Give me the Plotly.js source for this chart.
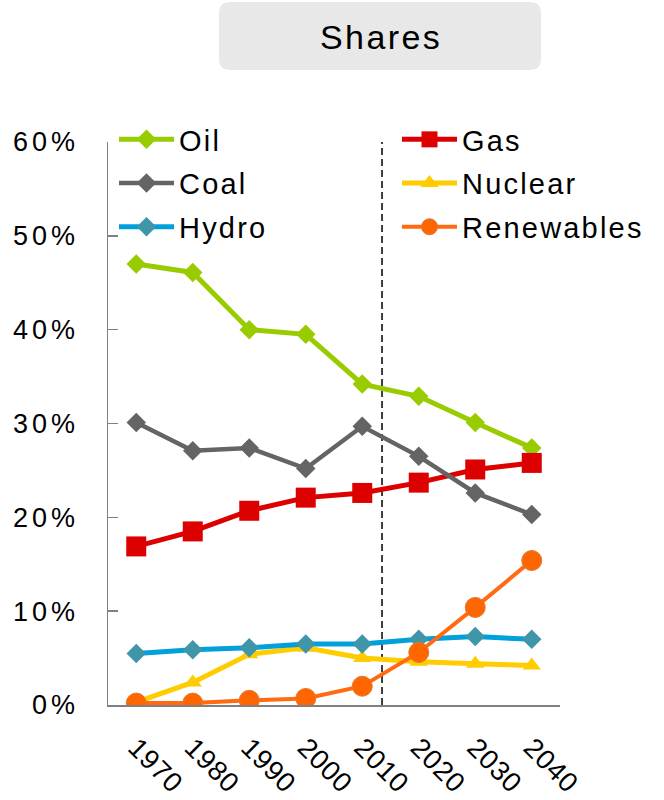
<!DOCTYPE html>
<html>
<head>
<meta charset="utf-8">
<script src="https://cdn.plot.ly/plotly-3.0.1.min.js"></script>
<style>
html,body{margin:0;padding:0;background:#fff;}
.legend text, .legend2 text, [class^="legend"] text, text.legendtext{letter-spacing:2.2px !important;}
[class^="legend"] .scrollbox, .legend2 .scrollbox, .legend .scrollbox{clip-path:none !important;}
.ytick text{letter-spacing:4px;}
.xtick text{letter-spacing:0.6px;}
.annotation-text{letter-spacing:2.4px;}
</style>
</head>
<body>
<div id="chart" style="width:664px;height:800px;"></div>
<script>
const years = [1970, 1980, 1990, 2000, 2010, 2020, 2030, 2040];
const yearLabels = ['1970', '1980', '1990', '2000', '2010', '2020', '2030', '2040'];
const oil = [0.470, 0.461, 0.400, 0.395, 0.342, 0.329, 0.301, 0.274];
const coal = [0.301, 0.271, 0.274, 0.252, 0.297, 0.265, 0.226, 0.203];
const gas = [0.169, 0.185, 0.207, 0.221, 0.226, 0.237, 0.251, 0.258];
const hydro = [0.055, 0.059, 0.061, 0.065, 0.065, 0.070, 0.073, 0.070];
const nuclear = [0.003, 0.024, 0.054, 0.061, 0.050, 0.046, 0.044, 0.042];
const renewables = [0.002, 0.002, 0.005, 0.007, 0.020, 0.056, 0.104, 0.154];
const yTicks = [0, 0.1, 0.2, 0.3, 0.4, 0.5, 0.6];
const yTickLabels = ['0%', '10%', '20%', '30%', '40%', '50%', '60%'];
const projectionStart = 2013.5;
const titleText = 'Shares';

const FONT = 'Liberation Sans, Arial, sans-serif';
const W = 664, H = 800;
const L = 108, R = 560, T = 142, B = 705;
const px2x = p => (p - L) / (R - L);
const px2y = p => (B - p) / (B - T);

function roundRect(x0, y0, x1, y1, r) {
  const X = px2x, Y = px2y;
  return 'M' + X(x0 + r) + ',' + Y(y0) +
    ' L' + X(x1 - r) + ',' + Y(y0) +
    ' Q' + X(x1) + ',' + Y(y0) + ' ' + X(x1) + ',' + Y(y0 + r) +
    ' L' + X(x1) + ',' + Y(y1 - r) +
    ' Q' + X(x1) + ',' + Y(y1) + ' ' + X(x1 - r) + ',' + Y(y1) +
    ' L' + X(x0 + r) + ',' + Y(y1) +
    ' Q' + X(x0) + ',' + Y(y1) + ' ' + X(x0) + ',' + Y(y1 - r) +
    ' L' + X(x0) + ',' + Y(y0 + r) +
    ' Q' + X(x0) + ',' + Y(y0) + ' ' + X(x0 + r) + ',' + Y(y0) + ' Z';
}

function tr(name, y, lineColor, lineWidth, symbol, size, markerColor, markerLine, legend) {
  return {
    type: 'scatter', mode: 'lines+markers', x: years, y: y, name: name,
    legend: legend, legendgroup: name,
    line: {color: lineColor, width: lineWidth},
    marker: {symbol: symbol, size: size, color: markerColor,
             line: markerLine || {width: 0}},
    hoverinfo: 'skip'
  };
}

const data = [
  tr('Oil', oil, '#99CC00', 5, 'diamond', 15, '#99CC00', null, 'legend'),
  tr('Gas', gas, '#DD0000', 5, 'square', 20, '#DD0000', null, 'legend2'),
  tr('Coal', coal, '#646464', 4.5, 'diamond', 15, '#646464', null, 'legend'),
  tr('Nuclear', nuclear, '#FFCC00', 5, 'triangle-up', 16, '#FFCC00', null, 'legend2'),
  tr('Hydro', hydro, '#00A0DC', 5, 'diamond', 15, '#3F96A8', null, 'legend'),
  tr('Renewables', renewables, '#FF6A13', 4, 'circle', 20, '#FF6600', {color: '#E07A30', width: 1}, 'legend2')
];

const legendCommon = {
  font: {family: FONT, size: 29, color: '#000'},
  bgcolor: 'rgba(0,0,0,0)', borderwidth: 0,
  itemwidth: 55, tracegroupgap: 3, traceorder: 'grouped',
  xanchor: 'left', yanchor: 'top', itemclick: false, itemdoubleclick: false
};

const layout = {
  width: W, height: H,
  margin: {l: L, r: W - R, t: T, b: H - B, pad: 0},
  paper_bgcolor: '#fff', plot_bgcolor: '#fff',
  font: {family: FONT, color: '#000'},
  showlegend: true,
  legend: Object.assign({}, legendCommon, {x: px2x(114), y: px2y(114)}),
  legend2: Object.assign({}, legendCommon, {x: px2x(397), y: px2y(114)}),
  xaxis: {
    type: 'linear', range: [1965, 2045],
    tickvals: years, ticktext: yearLabels, tickangle: 45,
    ticks: '', showgrid: false, zeroline: false,
    showline: true, linecolor: '#808080', linewidth: 1.5,
    tickfont: {family: FONT, size: 27.5, color: '#000'},
    ticklabelstandoff: 14, fixedrange: true
  },
  yaxis: {
    range: [0, 0.6], tickvals: yTicks, ticktext: yTickLabels,
    ticks: 'inside', ticklen: 10, tickwidth: 1.5, tickcolor: '#808080',
    showgrid: false, zeroline: false,
    showline: true, linecolor: '#808080', linewidth: 1.5,
    tickfont: {family: FONT, size: 27, color: '#000'},
    ticklabelstandoff: 22, fixedrange: true
  },
  shapes: [
    {type: 'line', xref: 'x', yref: 'paper', x0: projectionStart, x1: projectionStart,
     y0: 0, y1: 1, line: {color: '#000', width: 1.5, dash: '7px,4px'}, layer: 'below'},
    {type: 'path', xref: 'paper', yref: 'paper', path: roundRect(219, 2, 541, 70, 11),
     fillcolor: '#E8E8E8', line: {width: 0}, layer: 'below'}
  ],
  annotations: [
    {xref: 'paper', yref: 'paper', x: px2x(381), y: px2y(37), text: titleText,
     showarrow: false, xanchor: 'center', yanchor: 'middle',
     font: {family: FONT, size: 34, color: '#000'}}
  ]
};

Plotly.newPlot('chart', data, layout, {displayModeBar: false, staticPlot: true});
</script>
</body>
</html>
